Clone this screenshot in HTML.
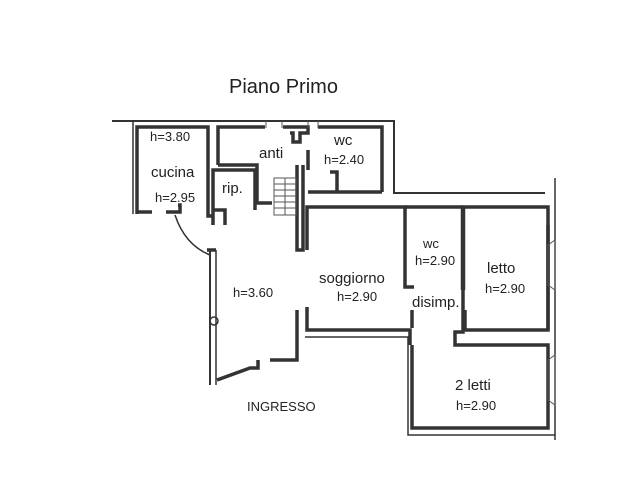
<!DOCTYPE html>
<html><head><style>
html,body{margin:0;padding:0;background:#fff;}
svg{display:block}
text{font-family:"Liberation Sans",sans-serif;fill:#222}
</style></head><body>
<svg width="640" height="480" viewBox="0 0 640 480" xmlns="http://www.w3.org/2000/svg">
<rect width="640" height="480" fill="#fff"/>
<text x="229" y="93" font-size="20" fill="#111">Piano Primo</text>
<g fill="none" stroke="#333" stroke-width="3.5" stroke-linejoin="miter">
<path d="M112 121 H394 V193 H545" stroke-width="2"/>
<path d="M133 121 V214" stroke-width="1.5"/>
<path d="M137 214 V127 H208 V216 H213"/>
<path d="M137 212 H152"/>
<path d="M166 212 H180 V205 H178"/>
<path d="M218 165 V127 H265"/>
<path d="M218 165 H257 V203 H272"/>
<path d="M283 127 H308 V133 H300 V142 H293 V133 H290"/>
<path d="M318 127 H382 V192"/>
<path d="M297 165 V250 H303 V165"/>
<path d="M337 192 V172 H330"/>
<path d="M308 192 H382"/>
<path d="M308 150 V170"/>
<path d="M213 225 V170 H255 V210"/>
<path d="M213 210 H225 V225"/>
<path d="M210 250 V385" stroke-width="2"/>
<path d="M216 250 V385" stroke-width="1.5"/>
<path d="M216 250 H207"/>
<path d="M297 310 V360 H270"/>
<path d="M217 380 L250 368 H258 V360"/>
<path d="M307 250 V207 H405 V287 H414"/>
<path d="M307 307 V330 H410 V345"/>
<path d="M305 337 H408 V435 H555" stroke-width="1.5"/>
<path d="M412 345 V428 H548 V345 H455 V332 H463 V207 H548 V330 H463"/>
<path d="M405 207 H463"/>
<path d="M463 207 V290" stroke-width="4.5"/>
<path d="M412 310 V328"/>
<path d="M465 310 V330"/>
<path d="M548 225 V330"/>
<path d="M555 178 V440" stroke-width="1.5"/>
</g>
<path d="M175 215 Q185 245 210 255" fill="none" stroke="#333" stroke-width="1.5"/>
<g stroke="#555" stroke-width="1" fill="none">
<rect x="274" y="178" width="22" height="37"/>
<path d="M274 184 H296 M274 190 H296 M274 196 H296 M274 202 H296 M274 208 H296 M285 178 V215"/>
<path d="M266 121 V128 M282 121 V128 M308 121 V128 M318 121 V128"/>
<path d="M548 245 L555 240 V290 L548 285 Z M548 360 L555 355 V405 L548 400 Z"/>
</g>
<circle cx="214" cy="321" r="4" fill="none" stroke="#333" stroke-width="1.5"/>
<g font-size="14">
<text x="150" y="141" font-size="13">h=3.80</text>
<text x="151" y="177" font-size="15">cucina</text>
<text x="155" y="202" font-size="13">h=2.95</text>
<text x="259" y="158" font-size="15">anti</text>
<text x="334" y="145" font-size="15">wc</text>
<text x="324" y="164" font-size="13">h=2.40</text>
<text x="222" y="193" font-size="15">rip.</text>
<text x="233" y="297" font-size="13">h=3.60</text>
<text x="319" y="283" font-size="15">soggiorno</text>
<text x="337" y="301" font-size="13">h=2.90</text>
<text x="423" y="248" font-size="13">wc</text>
<text x="415" y="265" font-size="13">h=2.90</text>
<text x="412" y="307" font-size="15">disimp.</text>
<text x="487" y="273" font-size="15">letto</text>
<text x="485" y="293" font-size="13">h=2.90</text>
<text x="455" y="390" font-size="15">2 letti</text>
<text x="456" y="410" font-size="13">h=2.90</text>
<text x="247" y="411" font-size="13" fill="#111">INGRESSO</text>
</g>
</svg>
</body></html>
